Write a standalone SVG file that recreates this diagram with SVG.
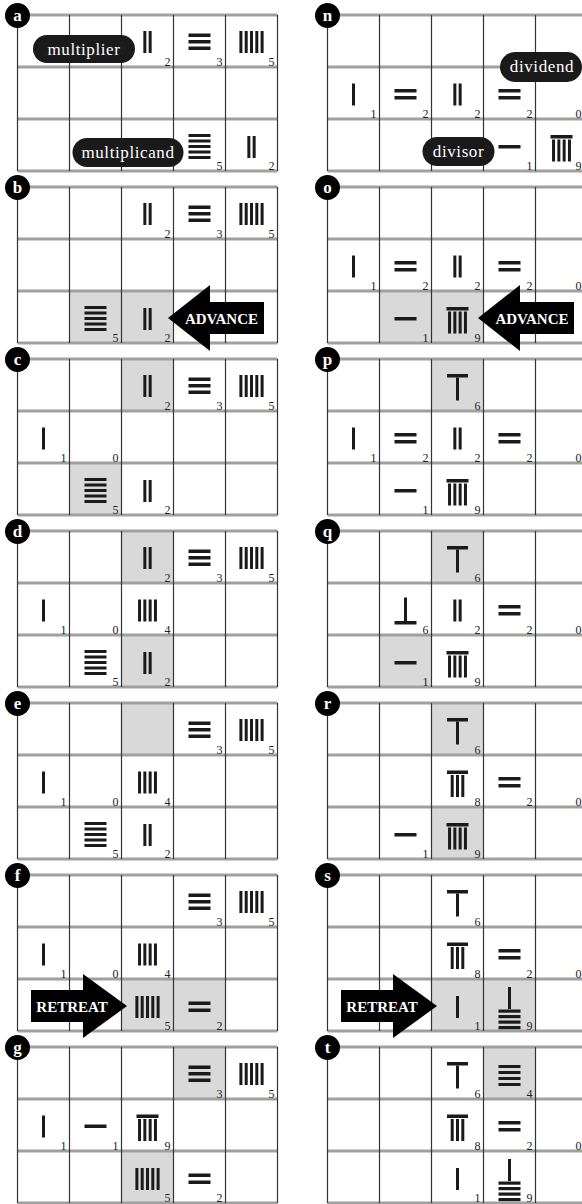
<svg xmlns="http://www.w3.org/2000/svg" width="582" height="1204" viewBox="0 0 582 1204">
<style>
.hl{stroke:#a0a0a0;stroke-width:3}
.vl{stroke:#333;stroke-width:1.2}
.sh{fill:#d9d9d9}
.d{font-family:"Liberation Serif",serif;font-size:12px;fill:#222;text-anchor:end}
.lt{font-family:"Liberation Serif",serif;font-weight:bold;font-size:17px;fill:#fff;text-anchor:middle}
.pill{fill:#1a1a1a}
.pt{font-family:"Liberation Serif",serif;font-size:17px;letter-spacing:0.6px;fill:#fff;text-anchor:middle}
.arr{fill:#000}
.at{font-family:"Liberation Serif",serif;font-weight:bold;font-size:15px;fill:#fff;text-anchor:middle}
</style>
<defs>
<g id="grid">
<line class="hl" x1="17.5" y1="15" x2="277.5" y2="15"/>
<line class="hl" x1="17.5" y1="67" x2="277.5" y2="67"/>
<line class="hl" x1="17.5" y1="119" x2="277.5" y2="119"/>
<line class="hl" x1="17.5" y1="171" x2="277.5" y2="171"/>
<line class="vl" x1="17.5" y1="15" x2="17.5" y2="171"/>
<line class="vl" x1="69.5" y1="15" x2="69.5" y2="171"/>
<line class="vl" x1="121.5" y1="15" x2="121.5" y2="171"/>
<line class="vl" x1="173.5" y1="15" x2="173.5" y2="171"/>
<line class="vl" x1="225.5" y1="15" x2="225.5" y2="171"/>
<line class="vl" x1="277.5" y1="15" x2="277.5" y2="171"/>
</g>
<g id="v1" fill="#1a1a1a"><rect x="-1.5" y="17" width="3" height="22"/></g>
<g id="v2" fill="#1a1a1a"><rect x="-4.15" y="17" width="3" height="22"/><rect x="1.15" y="17" width="3" height="22"/></g>
<g id="v4" fill="#1a1a1a"><rect x="-9.45" y="17" width="3" height="22"/><rect x="-4.15" y="17" width="3" height="22"/><rect x="1.15" y="17" width="3" height="22"/><rect x="6.45" y="17" width="3" height="22"/></g>
<g id="v5" fill="#1a1a1a"><rect x="-12.1" y="17" width="3" height="22"/><rect x="-6.8" y="17" width="3" height="22"/><rect x="-1.5" y="17" width="3" height="22"/><rect x="3.8" y="17" width="3" height="22"/><rect x="9.1" y="17" width="3" height="22"/></g>
<g id="v6" fill="#1a1a1a"><rect x="-10.5" y="16" width="21" height="3.5"/><rect x="-1.5" y="19.5" width="3" height="23"/></g>
<g id="v8" fill="#1a1a1a"><rect x="-10.5" y="16" width="21" height="3.5"/><rect x="-6.8" y="20.5" width="3" height="22"/><rect x="-1.5" y="20.5" width="3" height="22"/><rect x="3.8" y="20.5" width="3" height="22"/></g>
<g id="v9" fill="#1a1a1a"><rect x="-11" y="16" width="22" height="3.5"/><rect x="-9.45" y="20.5" width="3" height="22"/><rect x="-4.15" y="20.5" width="3" height="22"/><rect x="1.15" y="20.5" width="3" height="22"/><rect x="6.45" y="20.5" width="3" height="22"/></g>
<g id="h1" fill="#1a1a1a"><rect x="-11" y="26" width="22" height="3.5"/></g>
<g id="h2" fill="#1a1a1a"><rect x="-11" y="22.5" width="22" height="3.5"/><rect x="-11" y="29.5" width="22" height="3.5"/></g>
<g id="h3" fill="#1a1a1a"><rect x="-11" y="19.5" width="22" height="3.5"/><rect x="-11" y="26" width="22" height="3.5"/><rect x="-11" y="32.5" width="22" height="3.5"/></g>
<g id="h4" fill="#1a1a1a"><rect x="-11" y="19" width="22" height="3"/><rect x="-11" y="25" width="22" height="3"/><rect x="-11" y="31" width="22" height="3"/><rect x="-11" y="37" width="22" height="3"/></g>
<g id="h5" fill="#1a1a1a"><rect x="-11" y="15" width="22" height="3"/><rect x="-11" y="20.5" width="22" height="3"/><rect x="-11" y="26" width="22" height="3"/><rect x="-11" y="31.5" width="22" height="3"/><rect x="-11" y="37" width="22" height="3"/></g>
<g id="h6" fill="#1a1a1a"><rect x="-1.5" y="15" width="3" height="24"/><rect x="-11" y="38.5" width="22" height="3.5"/></g>
<g id="h9" fill="#1a1a1a"><rect x="-1.5" y="8" width="3" height="22"/><rect x="-11" y="30.5" width="22" height="3.2"/><rect x="-11" y="36" width="22" height="3.2"/><rect x="-11" y="41.5" width="22" height="3.2"/><rect x="-11" y="47" width="22" height="3.2"/></g>
</defs>

<!-- LEFT COLUMN -->
<g id="panel-a">
<use href="#grid"/>
<use href="#v2" x="147.5" y="14"/><text class="d" x="170.5" y="65.5">2</text>
<use href="#h3" x="199.5" y="14"/><text class="d" x="222.5" y="65.5">3</text>
<use href="#v5" x="251.5" y="14"/><text class="d" x="274.5" y="65.5">5</text>
<use href="#h5" x="199.5" y="119"/><text class="d" x="222.5" y="169.5">5</text>
<use href="#v2" x="251.5" y="119"/><text class="d" x="274.5" y="169.5">2</text>
<circle cx="17.5" cy="15.5" r="12.5"/><text class="lt" x="17.5" y="21">a</text>
<g id="label-multiplier"><rect class="pill" x="33" y="35" width="102" height="28" rx="14"/><text class="pt" x="84" y="54.5">multiplier</text></g>
<g id="label-multiplicand"><rect class="pill" x="72.5" y="138" width="111" height="29" rx="14.5"/><text class="pt" x="128" y="158">multiplicand</text></g>
</g>

<g id="panel-b" transform="translate(0,172)">
<rect class="sh" x="69.5" y="119" width="52" height="52"/><rect class="sh" x="121.5" y="119" width="52" height="52"/>
<use href="#grid"/>
<use href="#v2" x="147.5" y="14"/><text class="d" x="170.5" y="65.5">2</text>
<use href="#h3" x="199.5" y="14"/><text class="d" x="222.5" y="65.5">3</text>
<use href="#v5" x="251.5" y="14"/><text class="d" x="274.5" y="65.5">5</text>
<use href="#h5" x="95.5" y="119"/><text class="d" x="118.5" y="169.5">5</text>
<use href="#v2" x="147.5" y="119"/><text class="d" x="170.5" y="169.5">2</text>
<circle cx="17.5" cy="15.5" r="12.5"/><text class="lt" x="17.5" y="21">b</text>
</g>

<g id="panel-c" transform="translate(0,344)">
<rect class="sh" x="121.5" y="15" width="52" height="52"/><rect class="sh" x="69.5" y="119" width="52" height="52"/>
<use href="#grid"/>
<use href="#v2" x="147.5" y="14"/><text class="d" x="170.5" y="65.5">2</text>
<use href="#h3" x="199.5" y="14"/><text class="d" x="222.5" y="65.5">3</text>
<use href="#v5" x="251.5" y="14"/><text class="d" x="274.5" y="65.5">5</text>
<use href="#v1" x="43.5" y="66.5"/><text class="d" x="66.5" y="117.5">1</text>
<text class="d" x="118.5" y="117.5">0</text>
<use href="#h5" x="95.5" y="119"/><text class="d" x="118.5" y="169.5">5</text>
<use href="#v2" x="147.5" y="119"/><text class="d" x="170.5" y="169.5">2</text>
<circle cx="17.5" cy="15.5" r="12.5"/><text class="lt" x="17.5" y="21">c</text>
</g>

<g id="panel-d" transform="translate(0,516)">
<rect class="sh" x="121.5" y="15" width="52" height="52"/><rect class="sh" x="121.5" y="119" width="52" height="52"/>
<use href="#grid"/>
<use href="#v2" x="147.5" y="14"/><text class="d" x="170.5" y="65.5">2</text>
<use href="#h3" x="199.5" y="14"/><text class="d" x="222.5" y="65.5">3</text>
<use href="#v5" x="251.5" y="14"/><text class="d" x="274.5" y="65.5">5</text>
<use href="#v1" x="43.5" y="66.5"/><text class="d" x="66.5" y="117.5">1</text>
<text class="d" x="118.5" y="117.5">0</text>
<use href="#v4" x="147.5" y="66.5"/><text class="d" x="170.5" y="117.5">4</text>
<use href="#h5" x="95.5" y="119"/><text class="d" x="118.5" y="169.5">5</text>
<use href="#v2" x="147.5" y="119"/><text class="d" x="170.5" y="169.5">2</text>
<circle cx="17.5" cy="15.5" r="12.5"/><text class="lt" x="17.5" y="21">d</text>
</g>

<g id="panel-e" transform="translate(0,688)">
<rect class="sh" x="121.5" y="15" width="52" height="52"/>
<use href="#grid"/>
<use href="#h3" x="199.5" y="14"/><text class="d" x="222.5" y="65.5">3</text>
<use href="#v5" x="251.5" y="14"/><text class="d" x="274.5" y="65.5">5</text>
<use href="#v1" x="43.5" y="66.5"/><text class="d" x="66.5" y="117.5">1</text>
<text class="d" x="118.5" y="117.5">0</text>
<use href="#v4" x="147.5" y="66.5"/><text class="d" x="170.5" y="117.5">4</text>
<use href="#h5" x="95.5" y="119"/><text class="d" x="118.5" y="169.5">5</text>
<use href="#v2" x="147.5" y="119"/><text class="d" x="170.5" y="169.5">2</text>
<circle cx="17.5" cy="15.5" r="12.5"/><text class="lt" x="17.5" y="21">e</text>
</g>

<g id="panel-f" transform="translate(0,860)">
<rect class="sh" x="121.5" y="119" width="52" height="52"/><rect class="sh" x="173.5" y="119" width="52" height="52"/>
<use href="#grid"/>
<use href="#h3" x="199.5" y="14"/><text class="d" x="222.5" y="65.5">3</text>
<use href="#v5" x="251.5" y="14"/><text class="d" x="274.5" y="65.5">5</text>
<use href="#v1" x="43.5" y="66.5"/><text class="d" x="66.5" y="117.5">1</text>
<text class="d" x="118.5" y="117.5">0</text>
<use href="#v4" x="147.5" y="66.5"/><text class="d" x="170.5" y="117.5">4</text>
<use href="#v5" x="147.5" y="119"/><text class="d" x="170.5" y="169.5">5</text>
<use href="#h2" x="199.5" y="119"/><text class="d" x="222.5" y="169.5">2</text>
<circle cx="17.5" cy="15.5" r="12.5"/><text class="lt" x="17.5" y="21">f</text>
</g>

<g id="panel-g" transform="translate(0,1032)">
<rect class="sh" x="173.5" y="15" width="52" height="52"/><rect class="sh" x="121.5" y="119" width="52" height="52"/>
<use href="#grid"/>
<use href="#h3" x="199.5" y="14"/><text class="d" x="222.5" y="65.5">3</text>
<use href="#v5" x="251.5" y="14"/><text class="d" x="274.5" y="65.5">5</text>
<use href="#v1" x="43.5" y="66.5"/><text class="d" x="66.5" y="117.5">1</text>
<use href="#h1" x="95.5" y="66.5"/><text class="d" x="118.5" y="117.5">1</text>
<use href="#v9" x="147.5" y="66.5"/><text class="d" x="170.5" y="117.5">9</text>
<use href="#v5" x="147.5" y="119"/><text class="d" x="170.5" y="169.5">5</text>
<use href="#h2" x="199.5" y="119"/><text class="d" x="222.5" y="169.5">2</text>
<circle cx="17.5" cy="15.5" r="12.5"/><text class="lt" x="17.5" y="21">g</text>
</g>

<!-- RIGHT COLUMN -->
<g id="panel-n" transform="translate(310,0)">
<use href="#grid"/>
<use href="#v1" x="43.5" y="66.5"/><text class="d" x="66.5" y="117.5">1</text>
<use href="#h2" x="95.5" y="66.5"/><text class="d" x="118.5" y="117.5">2</text>
<use href="#v2" x="147.5" y="66.5"/><text class="d" x="170.5" y="117.5">2</text>
<use href="#h2" x="199.5" y="66.5"/><text class="d" x="222.5" y="117.5">2</text>
<text class="d" x="271.5" y="117.5">0</text>
<use href="#h1" x="199.5" y="119"/><text class="d" x="222.5" y="169.5">1</text>
<use href="#v9" x="251.5" y="119"/><text class="d" x="271.5" y="169.5">9</text>
<circle cx="17.5" cy="15.5" r="12.5"/><text class="lt" x="17.5" y="21">n</text>
<g id="label-dividend"><rect class="pill" x="190" y="52" width="82" height="30" rx="15"/><text class="pt" x="232" y="72">dividend</text></g>
<g id="label-divisor"><rect class="pill" x="112.5" y="137" width="72" height="29" rx="14.5"/><text class="pt" x="148.5" y="157">divisor</text></g>
</g>

<g id="panel-o" transform="translate(310,172)">
<rect class="sh" x="69.5" y="119" width="52" height="52"/><rect class="sh" x="121.5" y="119" width="52" height="52"/>
<use href="#grid"/>
<use href="#v1" x="43.5" y="66.5"/><text class="d" x="66.5" y="117.5">1</text>
<use href="#h2" x="95.5" y="66.5"/><text class="d" x="118.5" y="117.5">2</text>
<use href="#v2" x="147.5" y="66.5"/><text class="d" x="170.5" y="117.5">2</text>
<use href="#h2" x="199.5" y="66.5"/><text class="d" x="222.5" y="117.5">2</text>
<text class="d" x="271.5" y="117.5">0</text>
<use href="#h1" x="95.5" y="119"/><text class="d" x="118.5" y="169.5">1</text>
<use href="#v9" x="147.5" y="119"/><text class="d" x="170.5" y="169.5">9</text>
<circle cx="17.5" cy="15.5" r="12.5"/><text class="lt" x="17.5" y="21">o</text>
</g>

<g id="panel-p" transform="translate(310,344)">
<rect class="sh" x="121.5" y="15" width="52" height="52"/>
<use href="#grid"/>
<use href="#v6" x="147.5" y="14"/><text class="d" x="170.5" y="65.5">6</text>
<use href="#v1" x="43.5" y="66.5"/><text class="d" x="66.5" y="117.5">1</text>
<use href="#h2" x="95.5" y="66.5"/><text class="d" x="118.5" y="117.5">2</text>
<use href="#v2" x="147.5" y="66.5"/><text class="d" x="170.5" y="117.5">2</text>
<use href="#h2" x="199.5" y="66.5"/><text class="d" x="222.5" y="117.5">2</text>
<text class="d" x="271.5" y="117.5">0</text>
<use href="#h1" x="95.5" y="119"/><text class="d" x="118.5" y="169.5">1</text>
<use href="#v9" x="147.5" y="119"/><text class="d" x="170.5" y="169.5">9</text>
<circle cx="17.5" cy="15.5" r="12.5"/><text class="lt" x="17.5" y="21">p</text>
</g>

<g id="panel-q" transform="translate(310,516)">
<rect class="sh" x="121.5" y="15" width="52" height="52"/><rect class="sh" x="69.5" y="119" width="52" height="52"/>
<use href="#grid"/>
<use href="#v6" x="147.5" y="14"/><text class="d" x="170.5" y="65.5">6</text>
<use href="#h6" x="95.5" y="66.5"/><text class="d" x="118.5" y="117.5">6</text>
<use href="#v2" x="147.5" y="66.5"/><text class="d" x="170.5" y="117.5">2</text>
<use href="#h2" x="199.5" y="66.5"/><text class="d" x="222.5" y="117.5">2</text>
<text class="d" x="271.5" y="117.5">0</text>
<use href="#h1" x="95.5" y="119"/><text class="d" x="118.5" y="169.5">1</text>
<use href="#v9" x="147.5" y="119"/><text class="d" x="170.5" y="169.5">9</text>
<circle cx="17.5" cy="15.5" r="12.5"/><text class="lt" x="17.5" y="21">q</text>
</g>

<g id="panel-r" transform="translate(310,688)">
<rect class="sh" x="121.5" y="15" width="52" height="52"/><rect class="sh" x="121.5" y="119" width="52" height="52"/>
<use href="#grid"/>
<use href="#v6" x="147.5" y="14"/><text class="d" x="170.5" y="65.5">6</text>
<use href="#v8" x="147.5" y="66.5"/><text class="d" x="170.5" y="117.5">8</text>
<use href="#h2" x="199.5" y="66.5"/><text class="d" x="222.5" y="117.5">2</text>
<text class="d" x="271.5" y="117.5">0</text>
<use href="#h1" x="95.5" y="119"/><text class="d" x="118.5" y="169.5">1</text>
<use href="#v9" x="147.5" y="119"/><text class="d" x="170.5" y="169.5">9</text>
<circle cx="17.5" cy="15.5" r="12.5"/><text class="lt" x="17.5" y="21">r</text>
</g>

<g id="panel-s" transform="translate(310,860)">
<rect class="sh" x="121.5" y="119" width="52" height="52"/><rect class="sh" x="173.5" y="119" width="52" height="52"/>
<use href="#grid"/>
<use href="#v6" x="147.5" y="14"/><text class="d" x="170.5" y="65.5">6</text>
<use href="#v8" x="147.5" y="66.5"/><text class="d" x="170.5" y="117.5">8</text>
<use href="#h2" x="199.5" y="66.5"/><text class="d" x="222.5" y="117.5">2</text>
<text class="d" x="271.5" y="117.5">0</text>
<use href="#v1" x="147.5" y="119"/><text class="d" x="170.5" y="169.5">1</text>
<use href="#h9" x="199.5" y="119"/><text class="d" x="222.5" y="169.5">9</text>
<circle cx="17.5" cy="15.5" r="12.5"/><text class="lt" x="17.5" y="21">s</text>
</g>

<g id="panel-t" transform="translate(310,1032)">
<rect class="sh" x="173.5" y="15" width="52" height="52"/>
<use href="#grid"/>
<use href="#v6" x="147.5" y="14"/><text class="d" x="170.5" y="65.5">6</text>
<use href="#h4" x="199.5" y="14"/><text class="d" x="222.5" y="65.5">4</text>
<use href="#v8" x="147.5" y="66.5"/><text class="d" x="170.5" y="117.5">8</text>
<use href="#h2" x="199.5" y="66.5"/><text class="d" x="222.5" y="117.5">2</text>
<text class="d" x="271.5" y="117.5">0</text>
<use href="#v1" x="147.5" y="119"/><text class="d" x="170.5" y="169.5">1</text>
<use href="#h9" x="199.5" y="119"/><text class="d" x="222.5" y="169.5">9</text>
<circle cx="17.5" cy="15.5" r="12.5"/><text class="lt" x="17.5" y="21">t</text>
</g>

<!-- ARROWS -->
<g id="connectors">
<g id="advance-b" transform="translate(0,172)"><path class="arr" d="M168,146 L210,113 L210,130 L264,130 L264,162 L210,162 L210,179 Z"/><text class="at" x="221.5" y="151.5">ADVANCE</text></g>
<g id="advance-o" transform="translate(310,172)"><path class="arr" d="M168,146 L210,113 L210,130 L264,130 L264,162 L210,162 L210,179 Z"/><text class="at" x="222" y="151.5">ADVANCE</text></g>
<g id="retreat-f" transform="translate(0,860)"><path class="arr" d="M127,146 L83,114 L83,130 L31,130 L31,162 L83,162 L83,178 Z"/><text class="at" x="72" y="151.5">RETREAT</text></g>
<g id="retreat-s" transform="translate(310,860)"><path class="arr" d="M127,146 L83,114 L83,130 L31,130 L31,162 L83,162 L83,178 Z"/><text class="at" x="72" y="151.5">RETREAT</text></g>
</g>
</svg>
